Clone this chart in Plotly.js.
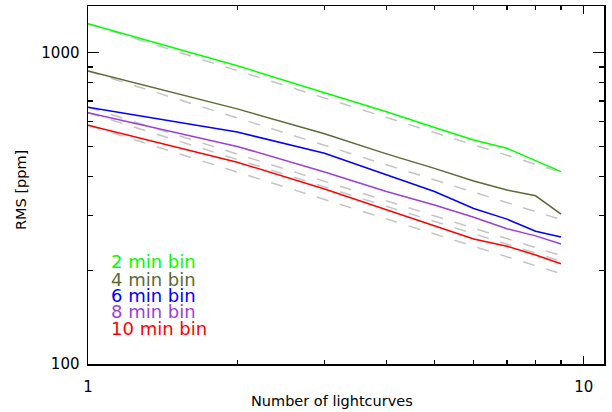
<!DOCTYPE html>
<html><head><meta charset="utf-8">
<script src="https://cdn.plot.ly/plotly-3.0.1.min.js"></script>
<style>html,body{margin:0;padding:0;background:#fff}#chart{width:612px;height:412px}</style>
</head><body><div id="chart"></div>
<script>
const nCurves = [1, 2, 3, 4, 5, 6, 7, 8, 9];
const seriesNames = ["2 min bin", "4 min bin", "6 min bin", "8 min bin", "10 min bin"];
const seriesColors = ["#00ff00", "#5b6b35", "#0000ff", "#9b3fdc", "#ff0000"];
const rms2 = [1239, 908, 744, 646, 575, 524, 493, 450, 415];
const rms4 = [873, 660, 549, 473, 425, 387, 362, 347, 303];
const rms6 = [668, 556, 475, 404, 358, 316, 292, 267, 256];
const rms8 = [642, 500, 414, 358, 324, 296, 272, 258, 243];
const rms10 = [585, 445, 365, 313, 278, 252, 239, 224, 210];
const refN = [1, 9];
const refStart = [1239, 873, 668, 642, 585];
const refEnd = [413, 291, 223, 214, 195];
const yTickVals = [100, 1000];
const yTickText = ["100", "1000"];
const yMinor = [200, 300, 400, 500, 600, 700, 800, 900];
const xTickVals = [1, 10];
const xTickText = ["1", "10"];
const xMinor = [2, 3, 4, 5, 6, 7, 8, 9];

const allRms = [rms2, rms4, rms6, rms8, rms10];
const traces = [];
for (let i = 0; i < allRms.length; i++) {
  traces.push({x: refN, y: [refStart[i], refEnd[i]], mode: 'lines', showlegend: false,
    line: {color: '#c4c4c4', width: 1.5, dash: '12px,12px'}, hoverinfo: 'skip'});
}
for (let i = 0; i < allRms.length; i++) {
  traces.push({x: nCurves, y: allRms[i], mode: 'lines', name: seriesNames[i], showlegend: false,
    line: {color: seriesColors[i], width: 1.5}});
}
const legendY = [261.5, 279, 295, 311, 328];
const annotations = seriesNames.map((t, i) => ({
  text: t, xref: 'paper', yref: 'paper', x: (109 - 88) / 516, y: 1 - (legendY[i] - 6) / 358,
  xanchor: 'left', yanchor: 'middle', showarrow: false,
  font: {family: 'DejaVu Sans', size: 18, color: seriesColors[i]}
}));
annotations.push({text: 'Number of lightcurves', xref: 'paper', yref: 'paper',
  x: (332 - 88) / 516, y: 1 - (401 - 6) / 358, xanchor: 'center', yanchor: 'middle', showarrow: false,
  font: {family: 'DejaVu Sans', size: 14.5, color: '#000'}});
annotations.push({text: 'RMS [ppm]', xref: 'paper', yref: 'paper', textangle: -90,
  x: (21 - 88) / 516, y: 1 - (190 - 6) / 358, xanchor: 'center', yanchor: 'middle', showarrow: false,
  font: {family: 'DejaVu Sans', size: 14.5, color: '#000'}});

const layout = {
  width: 612, height: 412,
  margin: {l: 88, r: 8, t: 6, b: 48},
  paper_bgcolor: '#fff', plot_bgcolor: '#fff',
  font: {family: 'DejaVu Sans', size: 15, color: '#000'},
  showlegend: false,
  annotations: annotations,
  xaxis: {type: 'log', range: [0, 1.041], showgrid: false, zeroline: false,
    showline: true, linecolor: '#000', linewidth: 1.5, mirror: 'ticks',
    ticks: 'inside', ticklen: 8, tickwidth: 1.2, tickcolor: '#000',
    tickmode: 'array', tickvals: xTickVals, ticktext: xTickText, ticklabelstandoff: 8,
    minor: {tickmode: 'array', tickvals: xMinor, ticks: 'inside', ticklen: 4, tickwidth: 1.2, tickcolor: '#000', showgrid: false}},
  yaxis: {type: 'log', range: [2, 3.15], showgrid: false, zeroline: false,
    showline: true, linecolor: '#000', linewidth: 1.5, mirror: 'ticks',
    ticks: 'inside', ticklen: 11, tickwidth: 1.2, tickcolor: '#000',
    tickmode: 'array', tickvals: yTickVals, ticktext: yTickText, ticklabelstandoff: 4,
    minor: {tickmode: 'array', tickvals: yMinor, ticks: 'inside', ticklen: 5, tickwidth: 1.2, tickcolor: '#000', showgrid: false}}
};
Plotly.newPlot('chart', traces, layout, {displayModeBar: false, staticPlot: true});
</script></body></html>
